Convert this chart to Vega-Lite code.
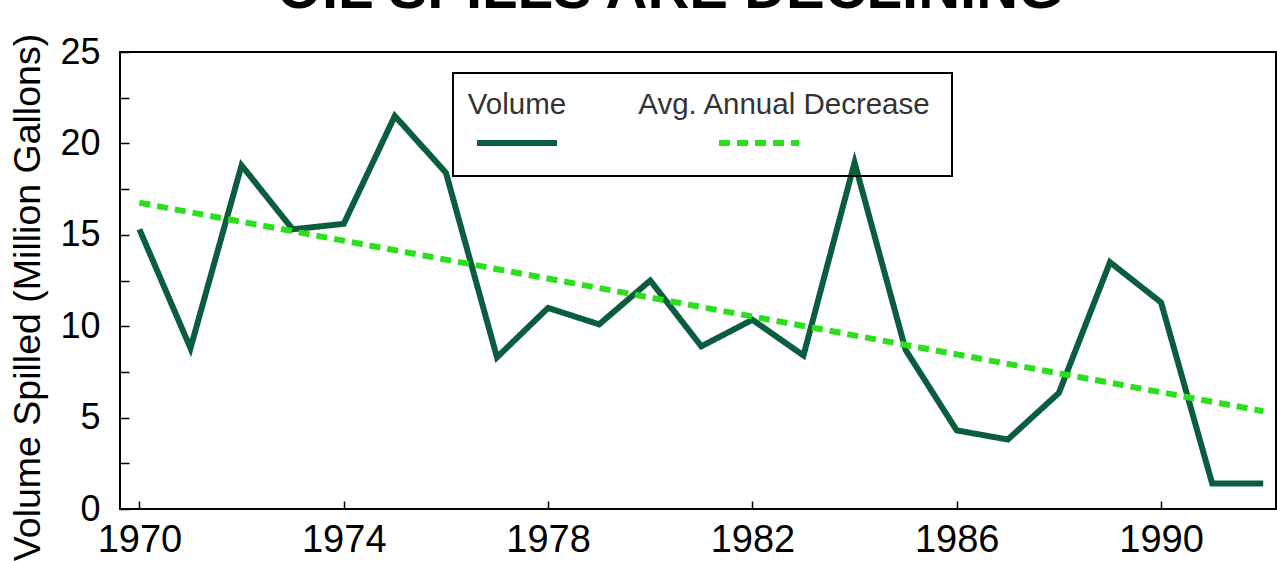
{
  "$schema": "https://vega.github.io/schema/vega-lite/v6.json",
  "width": 1156,
  "height": 457,
  "autosize": "none",
  "padding": {"left": 120, "top": 52, "right": 1, "bottom": 52},
  "background": "white",
  "title": {
    "text": "OIL SPILLS ARE DECLINING",
    "font": "Liberation Sans",
    "fontSize": 58,
    "fontWeight": "bold",
    "color": "black",
    "anchor": "middle",
    "frame": "group",
    "dx": -28,
    "baseline": "alphabetic",
    "offset": -33
  },
  "data": {
    "values": [
      {"year": 1970, "value": 15.3, "series": "Volume"},
      {"year": 1971, "value": 8.8, "series": "Volume"},
      {"year": 1972, "value": 18.8, "series": "Volume"},
      {"year": 1973, "value": 15.3, "series": "Volume"},
      {"year": 1974, "value": 15.6, "series": "Volume"},
      {"year": 1975, "value": 21.5, "series": "Volume"},
      {"year": 1976, "value": 18.4, "series": "Volume"},
      {"year": 1977, "value": 8.3, "series": "Volume"},
      {"year": 1978, "value": 11.0, "series": "Volume"},
      {"year": 1979, "value": 10.1, "series": "Volume"},
      {"year": 1980, "value": 12.5, "series": "Volume"},
      {"year": 1981, "value": 8.9, "series": "Volume"},
      {"year": 1982, "value": 10.35, "series": "Volume"},
      {"year": 1983, "value": 8.4, "series": "Volume"},
      {"year": 1984, "value": 18.95, "series": "Volume"},
      {"year": 1985, "value": 8.7, "series": "Volume"},
      {"year": 1986, "value": 4.3, "series": "Volume"},
      {"year": 1987, "value": 3.8, "series": "Volume"},
      {"year": 1988, "value": 6.35, "series": "Volume"},
      {"year": 1989, "value": 13.5, "series": "Volume"},
      {"year": 1990, "value": 11.3, "series": "Volume"},
      {"year": 1991, "value": 1.4, "series": "Volume"},
      {"year": 1992, "value": 1.4, "series": "Volume"},
      {"year": 1970, "value": 16.75, "series": "Avg. Annual Decrease"},
      {"year": 1992, "value": 5.35, "series": "Avg. Annual Decrease"}
    ]
  },
  "mark": {"type": "line", "strokeWidth": 6, "strokeJoin": "miter"},
  "encoding": {
    "x": {
      "field": "year",
      "type": "quantitative",
      "scale": {"domain": [1969.62, 1992.25], "nice": false, "zero": false},
      "axis": {
        "title": null,
        "values": [1970, 1974, 1978, 1982, 1986, 1990],
        "format": "d",
        "grid": false,
        "domain": false,
        "tickSize": -8,
        "tickColor": "black",
        "tickWidth": 1.5,
        "labelFont": "Liberation Sans",
        "labelFontSize": 38,
        "labelColor": "black",
        "labelPadding": 20,
        "labelFlush": false,
        "labelOverlap": false
      }
    },
    "y": {
      "field": "value",
      "type": "quantitative",
      "scale": {"domain": [0, 25], "nice": false},
      "axis": {
        "title": "Volume Spilled (Million Gallons)",
        "values": [0, 2.5, 5, 7.5, 10, 12.5, 15, 17.5, 20, 22.5, 25],
        "labelExpr": "datum.value % 5 === 0 ? datum.label : ''",
        "grid": false,
        "domain": false,
        "tickSize": -9,
        "tickColor": "black",
        "tickWidth": 1.5,
        "labelFont": "Liberation Sans",
        "labelFontSize": 36,
        "labelColor": "black",
        "labelPadding": 29,
        "labelOverlap": false,
        "titleFont": "Liberation Sans",
        "titleFontSize": 37.5,
        "titleFontWeight": "normal",
        "titleColor": "black",
        "titleBaseline": "alphabetic",
        "titleX": -81,
        "titleY": 245
      }
    },
    "color": {
      "field": "series",
      "type": "nominal",
      "scale": {"domain": ["Volume", "Avg. Annual Decrease"], "range": ["#0b5e3c", "#2bdf1f"]},
      "legend": {
        "orient": "none",
        "legendX": 333,
        "legendY": 21,
        "direction": "horizontal",
        "title": " ",
        "encode": {
          "labels": {"update": {"dx": {"signal": "datum.index ? -18 : -43"}, "dy": {"value": -38}, "align": {"value": "center"}}},
          "legend": {"update": {"stroke": {"value": "black"}, "strokeWidth": {"value": 2}}}
        }
      }
    },
    "strokeDash": {
      "field": "series",
      "type": "nominal",
      "scale": {"domain": ["Volume", "Avg. Annual Decrease"], "range": [[1, 0], [11, 7]]},
      "legend": {
        "orient": "none",
        "legendX": 333,
        "legendY": 21,
        "direction": "horizontal",
        "title": " ",
        "encode": {
          "labels": {"update": {"dx": {"signal": "datum.index ? -18 : -43"}, "dy": {"value": -38}, "align": {"value": "center"}}},
          "legend": {"update": {"stroke": {"value": "black"}, "strokeWidth": {"value": 2}}}
        }
      }
    }
  },
  "config": {
    "view": {"stroke": "black", "strokeWidth": 2},
    "legend": {
      "strokeColor": "black",
      "padding": 21,
      "titleFontSize": 6,
      "titlePadding": 0,
      "symbolType": "stroke",
      "symbolSize": 6400,
      "symbolStrokeWidth": 6,
      "labelFont": "Liberation Sans",
      "labelFontSize": 29.5,
      "labelColor": "#333333",
      "labelLimit": 500,
      "labelOffset": 0,
      "columnPadding": 68
    }
  }
}
